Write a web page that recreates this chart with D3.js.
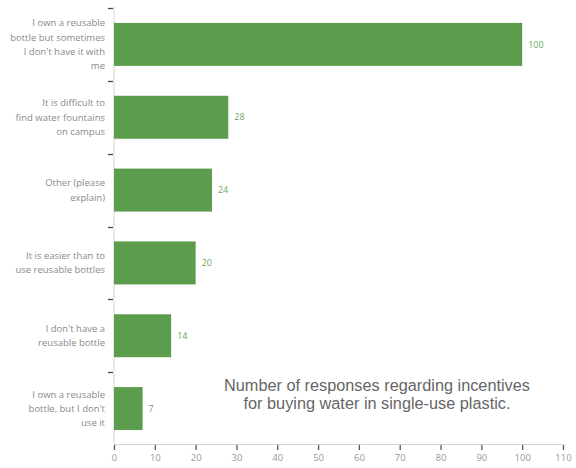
<!DOCTYPE html>
<html>
<head>
<meta charset="utf-8">
<script src="https://cdn.jsdelivr.net/npm/d3@7"></script>
<style>
  body { margin: 0; background: #fff; }
  text { font-family: "Open Sans", "DejaVu Sans", sans-serif; }
</style>
</head>
<body>
<div id="chart"></div>
<script>
// data
var categories = [
  "I own a reusable|bottle but sometimes|I don't have it with|me",
  "It is difficult to|find water fountains|on campus",
  "Other (please|explain)",
  "It is easier than to|use reusable bottles",
  "I don't have a|reusable bottle",
  "I own a reusable|bottle, but I don't|use it"
];
var values = [100, 28, 24, 20, 14, 7];
var xTicks = [0, 10, 20, 30, 40, 50, 60, 70, 80, 90, 100, 110];
var titleLines = ["Number of responses regarding incentives", "for buying water in single-use plastic."];

var svgWidth = 576, svgHeight = 468;

var svg = d3.select("#chart").append("svg")
  .attr("width", svgWidth)
  .attr("height", svgHeight);

var x = d3.scaleLinear().domain([0, 110]).range([114, 563]);
var y = d3.scaleBand().domain(d3.range(categories.length)).range([8, 445]).paddingInner(0.41).paddingOuter(0.205);

// x axis
var xAxis = d3.axisBottom(x).tickValues(xTicks).tickSize(5).tickPadding(5);
var gx = svg.append("g")
  .attr("transform", "translate(0,444)")
  .call(xAxis);
gx.select(".domain").attr("stroke", "#d4d4d4");
gx.selectAll(".tick line").attr("stroke", "#555").attr("stroke-width", 1.3).attr("transform", "translate(0,1)");
gx.selectAll(".tick text").attr("fill", "#999").style("font-size", "9.5px").style("font-family", "'Open Sans', sans-serif");

// y axis line
svg.append("line")
  .attr("x1", 114).attr("x2", 114)
  .attr("y1", 7).attr("y2", 444)
  .attr("stroke", "#d4d4d4");

// y ticks at band boundaries
var step = y.step();
var bounds = d3.range(categories.length).map(function(i) { return y(i) - (step - y.bandwidth()) / 2; });
svg.selectAll(".ytick").data(bounds).enter().append("line")
  .attr("class", "ytick")
  .attr("x1", 108).attr("x2", 113)
  .attr("y1", function(d) { return Math.round(d) + 0.5; })
  .attr("y2", function(d) { return Math.round(d) + 0.5; })
  .attr("stroke", "#444").attr("stroke-width", 1.3);

// bars
svg.selectAll(".bar").data(values).enter().append("rect")
  .attr("class", "bar")
  .attr("x", x(0))
  .attr("y", function(d, i) { return y(i); })
  .attr("width", function(d) { return x(d) - x(0); })
  .attr("height", y.bandwidth())
  .attr("fill", "#5b9c4d");

// value labels
svg.selectAll(".val").data(values).enter().append("text")
  .attr("class", "val")
  .attr("x", function(d) { return x(d) + 6; })
  .attr("y", function(d, i) { return y(i) + y.bandwidth() / 2; })
  .attr("dy", "0.35em")
  .attr("fill", "#6aa85c")
  .style("font-size", "9px")
  .text(function(d) { return d; });

// category labels
var lineH = 14.3;
svg.selectAll(".cat").data(categories).enter().append("text")
  .attr("class", "cat")
  .attr("text-anchor", "end")
  .attr("fill", "#8a8a8a")
  .style("font-size", "9.5px")
  .each(function(d, i) {
    var lines = d.split("|");
    var cy = y(i) + y.bandwidth() / 2;
    var top = cy - (lines.length - 1) * lineH / 2;
    var t = d3.select(this);
    lines.forEach(function(l, k) {
      t.append("tspan")
        .attr("x", 105)
        .attr("y", top + k * lineH)
        .attr("dy", "0.35em")
        .text(l);
    });
  });

// title
svg.selectAll(".title").data(titleLines).enter().append("text")
  .attr("class", "title")
  .attr("x", 377)
  .attr("y", function(d, i) { return 391 + i * 18; })
  .attr("text-anchor", "middle")
  .attr("fill", "#666")
  .style("font-size", "16.3px")
  .style("font-family", "'Liberation Sans', Arial, sans-serif")
  .text(function(d) { return d; });
</script>
</body>
</html>
